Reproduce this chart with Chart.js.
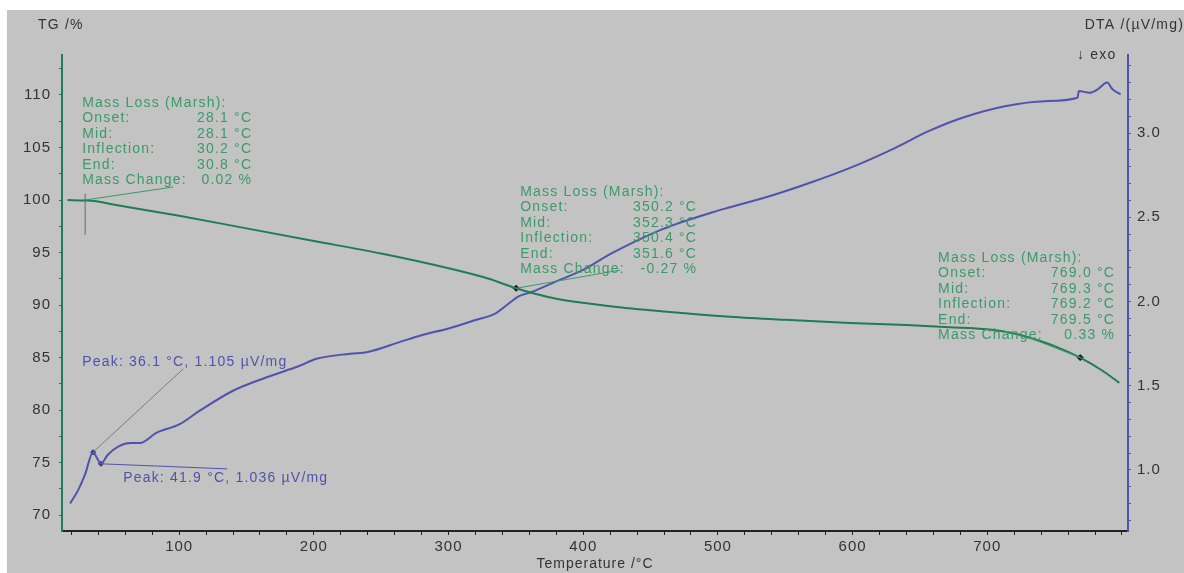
<!DOCTYPE html>
<html>
<head>
<meta charset="utf-8">
<script src="https://cdn.jsdelivr.net/npm/chart.js@4"></script>
<style>
  html, body { margin: 0; padding: 0; background: #fff; }
  #wrap { width: 1184px; height: 573px; }
</style>
</head>
<body>
<div id="wrap"><canvas id="tgChart" width="1184" height="573"></canvas></div>
<script>
// TG curve (mass, %)
const tgTemps = [17, 30, 37, 50, 100, 150, 200, 250, 300, 330, 350, 380, 420, 460, 509, 550, 598, 640, 672, 700, 720, 734, 750, 769, 785, 798];
const tgMass  = [100.0, 99.95, 99.9, 99.6, 98.5, 97.3, 96.1, 94.9, 93.5, 92.5, 91.6, 90.6, 89.9, 89.4, 88.9, 88.6, 88.3, 88.1, 87.9, 87.7, 87.3, 86.8, 86.1, 85.0, 83.8, 82.6];

// DTA curve (µV/mg)
const dtaTemps = [19, 25, 30, 36.1, 39, 41.9, 47, 55, 64, 71, 83, 100, 115, 140, 165, 190, 202, 227, 240, 264, 280, 300, 320, 335, 345, 352, 363, 380, 398, 422, 459, 496, 509, 540, 570, 600, 631, 656, 681, 713, 743, 767, 768, 776, 782, 789, 793, 799];
const dtaValues = [0.80, 0.88, 0.97, 1.105, 1.07, 1.036, 1.09, 1.14, 1.16, 1.16, 1.22, 1.27, 1.35, 1.47, 1.55, 1.62, 1.66, 1.69, 1.70, 1.76, 1.80, 1.84, 1.89, 1.93, 1.99, 2.03, 2.06, 2.12, 2.18, 2.29, 2.43, 2.53, 2.56, 2.63, 2.71, 2.80, 2.91, 3.01, 3.09, 3.16, 3.19, 3.21, 3.25, 3.24, 3.26, 3.30, 3.26, 3.23];

// step points on TG and DTA peaks
const stepTemps = [350.2, 769.0];
const stepMass = [91.6, 85.0];
const peakTemps = [36.1, 41.9];
const peakValues = [1.105, 1.036];

const xLabelTicks = [100, 200, 300, 400, 500, 600, 700];
const tgLabelTicks = [70, 75, 80, 85, 90, 95, 100, 105, 110];
const dtaLabelTicks = [1.0, 1.5, 2.0, 2.5, 3.0];

const marshBoxes = [
    { at: [28.0, 109.24], col: 170, lines: [['Onset:', '28.1 °C'], ['Mid:', '28.1 °C'], ['Inflection:', '30.2 °C'], ['End:', '30.8 °C'], ['Mass Change:', '0.02 %']], lead: [[95.5, 101.24], [30.2, 100.0]] },
    { at: [353.2, 100.76], col: 177, lines: [['Onset:', '350.2 °C'], ['Mid:', '352.3 °C'], ['Inflection:', '350.4 °C'], ['End:', '351.6 °C'], ['Mass Change:', '-0.27 %']], lead: [[427.4, 93.33], [350.2, 91.6]] },
    { at: [663.5, 94.48], col: 177, lines: [['Onset:', '769.0 °C'], ['Mid:', '769.3 °C'], ['Inflection:', '769.2 °C'], ['End:', '769.5 °C'], ['Mass Change:', '0.33 %']], lead: [[731.8, 86.86], [769.0, 85.0]] }
];
const peakNotes = [
    { text: 'Peak: 36.1 °C, 1.105 µV/mg', at: [28.0, 1.637], lead: [[103, 1.60], [36.1, 1.105]] },
    { text: 'Peak: 41.9 °C, 1.036 µV/mg', at: [58.4, 0.952], lead: [[135.6, 1.006], [41.9, 1.036]] }
];

const GREEN = '#1f7d55';
const GREEN_TEXT = '#3b9a69';
const BLUE = '#5152ad';
const FONT = '"Liberation Sans", Arial, sans-serif';

const pts = (xs, ys) => xs.map((x, i) => ({ x: x, y: ys[i] }));
const near = (v, list) => list.some(t => Math.abs(v - t) < 1e-6);

const backdrop = {
    id: 'backdrop',
    beforeDraw(chart) {
        const ctx = chart.ctx;
        ctx.fillStyle = '#ffffff';
        ctx.fillRect(0, 0, chart.width, chart.height);
        ctx.fillStyle = '#c3c3c3';
        ctx.fillRect(7, 10, chart.width - 7, chart.height - 10);
        // the screenshot text looks widely spaced
        ctx.letterSpacing = '1px';
    }
};

const notes = {
    id: 'notes',
    afterDatasetsDraw(chart) {
        const ctx = chart.ctx;
        const xs = chart.scales.x, tg = chart.scales.yTG, dta = chart.scales.yDTA;
        ctx.save();
        ctx.letterSpacing = '1.2px';
        ctx.font = '14px ' + FONT;
        ctx.textBaseline = 'middle';

        // Marsh boxes
        marshBoxes.forEach(b => {
            ctx.strokeStyle = GREEN_TEXT;
            ctx.lineWidth = 1;
            ctx.beginPath();
            ctx.moveTo(xs.getPixelForValue(b.lead[0][0]), tg.getPixelForValue(b.lead[0][1]));
            ctx.lineTo(xs.getPixelForValue(b.lead[1][0]), tg.getPixelForValue(b.lead[1][1]));
            ctx.stroke();
            const x0 = xs.getPixelForValue(b.at[0]);
            const y0 = tg.getPixelForValue(b.at[1]);
            ctx.fillStyle = GREEN_TEXT;
            ctx.textAlign = 'left';
            ctx.fillText('Mass Loss (Marsh):', x0, y0);
            b.lines.forEach((ln, i) => {
                const y = y0 + (i + 1) * 15.5;
                ctx.textAlign = 'left';
                ctx.fillText(ln[0], x0, y);
                ctx.textAlign = 'right';
                ctx.fillText(ln[1], x0 + b.col, y);
            });
        });

        // first step vertical marker
        ctx.strokeStyle = '#666';
        ctx.beginPath();
        ctx.moveTo(xs.getPixelForValue(30.2), tg.getPixelForValue(100.6));
        ctx.lineTo(xs.getPixelForValue(30.2), tg.getPixelForValue(96.7));
        ctx.stroke();

        // DTA peak notes
        peakNotes.forEach((p, i) => {
            ctx.strokeStyle = i === 0 ? '#7a7a8a' : BLUE;
            ctx.beginPath();
            ctx.moveTo(xs.getPixelForValue(p.lead[0][0]), dta.getPixelForValue(p.lead[0][1]));
            ctx.lineTo(xs.getPixelForValue(p.lead[1][0]), dta.getPixelForValue(p.lead[1][1]));
            ctx.stroke();
            ctx.fillStyle = BLUE;
            ctx.textAlign = 'left';
            ctx.fillText(p.text, xs.getPixelForValue(p.at[0]), dta.getPixelForValue(p.at[1]));
        });

        // axis titles
        ctx.fillStyle = '#333';
        ctx.textAlign = 'left';
        ctx.fillText('TG /%', 38, 25);
        ctx.textAlign = 'right';
        ctx.fillText('DTA /(µV/mg)', 1184, 25);
        ctx.textAlign = 'left';
        ctx.fillText('↓ exo', 1077, 55);
        ctx.restore();
    }
};

new Chart(document.getElementById('tgChart'), {
    type: 'line',
    data: {
        datasets: [
            { label: 'TG', data: pts(tgTemps, tgMass), yAxisID: 'yTG', borderColor: GREEN, borderWidth: 2, pointRadius: 0, cubicInterpolationMode: 'monotone' },
            { label: 'DTA', data: pts(dtaTemps, dtaValues), yAxisID: 'yDTA', borderColor: BLUE, borderWidth: 2, pointRadius: 0, cubicInterpolationMode: 'monotone' },
            { label: 'steps', data: pts(stepTemps, stepMass), yAxisID: 'yTG', showLine: false, pointStyle: 'rectRot', pointRadius: 3, pointBackgroundColor: '#111', pointBorderColor: '#111' },
            { label: 'peaks', data: pts(peakTemps, peakValues), yAxisID: 'yDTA', showLine: false, pointStyle: 'rectRot', pointRadius: 2.5, pointBackgroundColor: '#333366', pointBorderColor: '#333366' }
        ]
    },
    options: {
        responsive: false,
        animation: false,
        layout: { padding: { top: 55, left: 0, right: 0, bottom: 0 } },
        plugins: { legend: { display: false }, tooltip: { enabled: false } },
        scales: {
            x: {
                type: 'linear', min: 13, max: 804.5,
                border: { color: '#222', width: 2 },
                grid: { drawOnChartArea: false, drawTicks: true, tickLength: 4, color: '#222' },
                ticks: {
                    stepSize: 20, includeBounds: false, autoSkip: false, maxRotation: 0, padding: 3,
                    color: '#333', font: { family: FONT, size: 15 },
                    callback: v => near(v, xLabelTicks) ? String(v) : ''
                },
                title: { display: true, text: 'Temperature /°C', color: '#333', font: { family: FONT, size: 14 }, padding: { top: 0, bottom: 0 } },
                afterFit: s => { s.height = 42; }
            },
            yTG: {
                type: 'linear', position: 'left', min: 68.5, max: 113.8,
                border: { color: GREEN, width: 2 },
                grid: { drawOnChartArea: false, drawTicks: true, tickLength: 3, color: GREEN },
                ticks: {
                    stepSize: 2.5, includeBounds: false, autoSkip: false, padding: 8,
                    color: '#333', font: { family: FONT, size: 15 },
                    callback: v => near(v, tgLabelTicks) ? String(v) : ''
                },
                afterFit: s => { s.width = 62; }
            },
            yDTA: {
                type: 'linear', position: 'right', min: 0.637, max: 3.464,
                border: { color: BLUE, width: 2 },
                grid: { drawOnChartArea: false, drawTicks: true, tickLength: 3, color: BLUE },
                ticks: {
                    stepSize: 0.1, includeBounds: false, autoSkip: false, padding: 6,
                    color: '#333', font: { family: FONT, size: 15 },
                    callback: v => near(v, dtaLabelTicks) ? v.toFixed(1) : ''
                },
                afterFit: s => { s.width = 56; }
            }
        }
    },
    plugins: [backdrop, notes]
});
</script>
</body>
</html>
